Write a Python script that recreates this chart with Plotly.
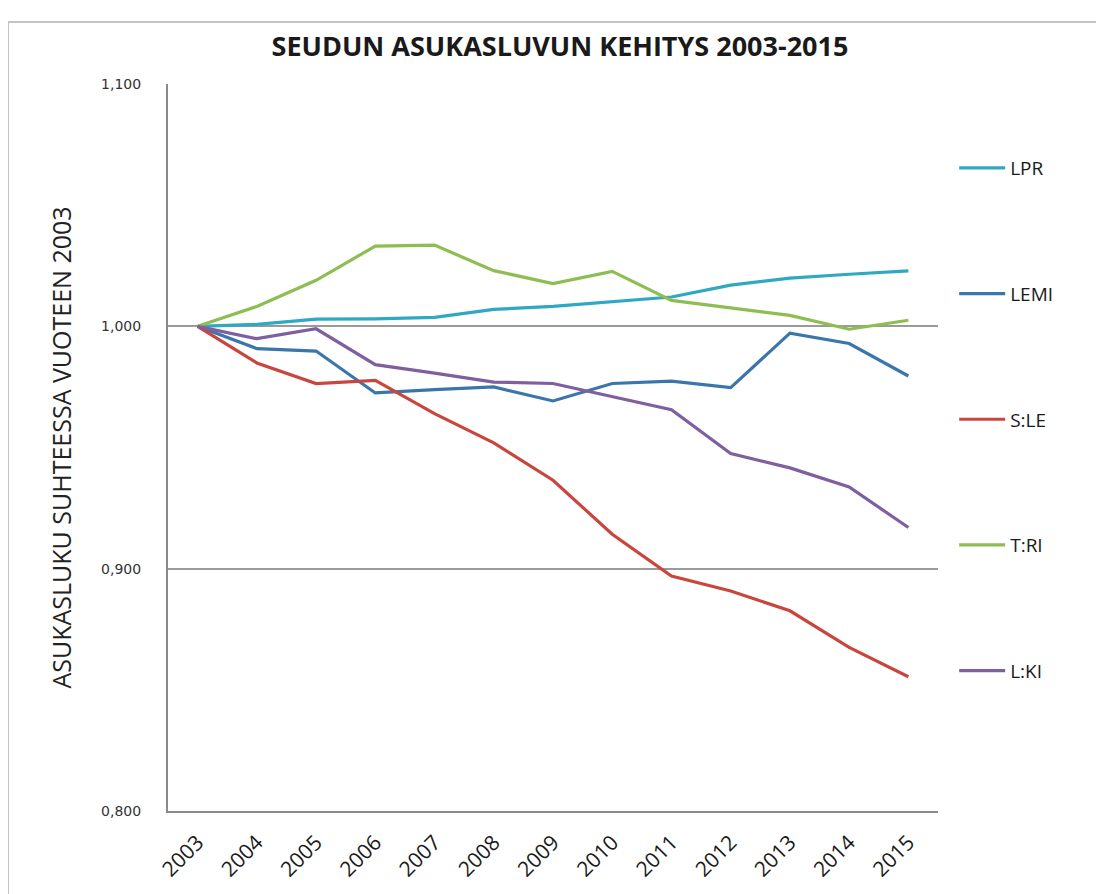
import plotly.graph_objects as go

years = ["2003", "2004", "2005", "2006", "2007", "2008", "2009", "2010", "2011", "2012", "2013", "2014", "2015"]

lpr = [1.000, 1.0008, 1.0030, 1.0031, 1.0037, 1.0070, 1.0082, 1.0100, 1.0121, 1.0170, 1.0199, 1.0215, 1.0229]
lemi = [1.000, 0.9908, 0.9898, 0.9725, 0.9739, 0.9750, 0.9692, 0.9764, 0.9774, 0.9747, 0.9972, 0.9929, 0.9795]
sle = [1.000, 0.9849, 0.9764, 0.9777, 0.9640, 0.9519, 0.9365, 0.9142, 0.8970, 0.8908, 0.8826, 0.8675, 0.8554]
tri = [1.000, 1.0082, 1.0190, 1.0331, 1.0335, 1.0230, 1.0176, 1.0227, 1.0107, 1.0077, 1.0045, 0.9988, 1.0025]
lki = [1.000, 0.9949, 0.9990, 0.9842, 0.9807, 0.9770, 0.9764, 0.9711, 0.9656, 0.9475, 0.9416, 0.9337, 0.9170]

series_names = ["LPR", "LEMI", "S:LE", "T:RI", "L:KI"]
series_values = [lpr, lemi, sle, tri, lki]
colors = ["#2fa9c2", "#3b76ab", "#c9463f", "#8ebd52", "#7e5fa0"]

title_text = "SEUDUN ASUKASLUVUN KEHITYS 2003-2015"
y_title = "ASUKASLUKU SUHTEESSA VUOTEEN 2003"
y_ticks = [0.8, 0.9, 1.0, 1.1]

# page body has an 8px margin; figure coordinates are shifted accordingly
OFF = 8
L, R, T, B = 168 - OFF, 1104 - 938 + OFF, 84 - OFF, 894 - 811 + OFF
PW, PH = 1104 - L - R, 894 - T - B

fig = go.Figure()
for name, vals, col in zip(series_names, series_values, colors):
    fig.add_trace(go.Scatter(
        x=years, y=vals, name=name, mode="lines",
        line=dict(color=col, width=3.2),
        legendgroup=name,
    ))

fig.update_layout(
    width=1104, height=894,
    margin=dict(l=L, r=R, t=T, b=B),
    paper_bgcolor="white", plot_bgcolor="white",
    separators=", ",
    title=dict(text="<b>" + title_text + "</b>", x=(560 - OFF) / 1104, xanchor="center",
               y=1 - (47 - OFF) / 894, yanchor="middle", yref="container",
               font=dict(family="Open Sans", size=27, color="#1a1a1a")),
    showlegend=True,
    legend=dict(x=1.021, xanchor="left", y=1 - (149 - 84) / PH, yanchor="top",
                font=dict(family="Open Sans", size=19, color="#1a1a1a"),
                tracegroupgap=98, bgcolor="rgba(0,0,0,0)", itemwidth=46),
    xaxis=dict(type="category", range=[-0.5, 12.5], showgrid=False,
               showline=True, linecolor="#8a8a8a", linewidth=2,
               tickangle=-45, ticks="", ticklabelstandoff=9,
               tickfont=dict(family="Open Sans", size=21, color="#1a1a1a")),
    yaxis=dict(range=[0.8, 1.1], tickvals=y_ticks, tickformat=".3f",
               showgrid=True, gridcolor="#9a9a9a", gridwidth=1.5,
               showline=True, linecolor="#8a8a8a", linewidth=2,
               ticks="", ticklabelstandoff=22, zeroline=False,
               tickfont=dict(family="DejaVu Sans", size=14, color="#333333"),
               title=dict(text=y_title, standoff=22,
                          font=dict(family="Open Sans", size=25, color="#222222"))),
    shapes=[
        dict(type="rect", xref="paper", yref="paper",
             x0=(8 - 168) / PW, x1=(1250 - 168) / PW,
             y0=(811 - 1000) / PH, y1=(811 - 22) / PH,
             line=dict(color="#c4c4c4", width=2), layer="below"),
    ],
)

fig.write_html("out.html")
